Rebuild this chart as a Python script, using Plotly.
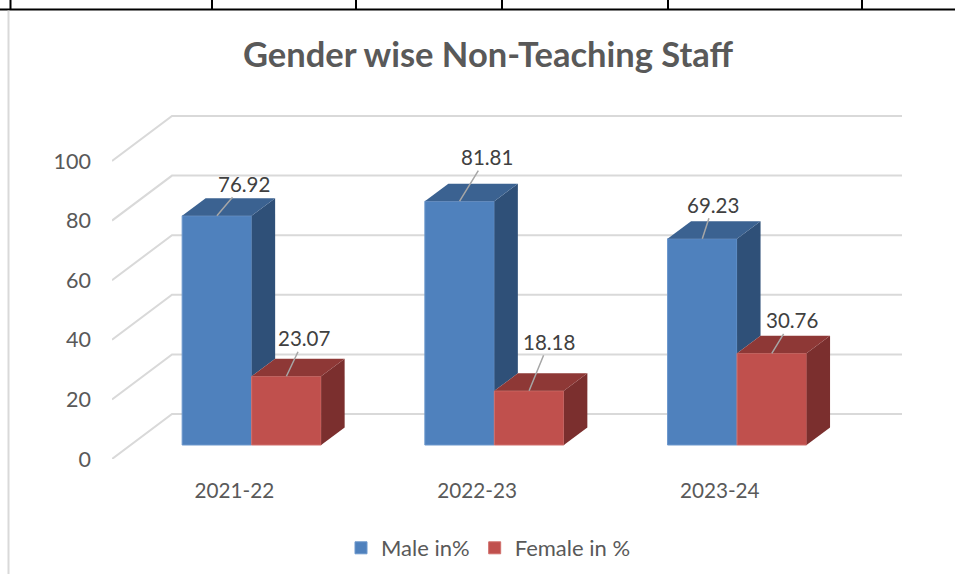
import plotly.graph_objects as go

categories = ["2021-22", "2022-23", "2023-24"]
male = [76.92, 81.81, 69.23]
female = [23.07, 18.18, 30.76]
y_ticks = [0, 20, 40, 60, 80, 100]

W, H = 955, 574
L, R, T, B = 112, 902, 105, 459
PX_X = 242.7    # pixels per category
PX_Y = 2.98     # pixels per percent
xr = [0, (R - L) / PX_X]
yr = [0, (B - T) / PX_Y]

# projection offsets, in axis units
WALL_DX, WALL_DY = 60 / PX_X, 45 / PX_Y
BAR_DX, BAR_DY = 23.5 / PX_X, 17.5 / PX_Y
SET_X, SET_Y = 18.3 / PX_X, 14 / PX_Y
BAR_W = 69.5 / PX_X

BLUE, BLUE_TOP, BLUE_SIDE = "#4F81BD", "#3B6291", "#2F5078"
RED, RED_TOP, RED_SIDE = "#C0504D", "#8E3836", "#7B2F2E"
TEXT, LABEL, GRID = "#595959", "#404040", "#D9D9D9"
FONT = "Lato"

centers = [i + 0.5 for i in range(len(categories))]
fig = go.Figure()

# front faces
split = [c + SET_X for c in centers]
fig.add_trace(go.Bar(x=split, y=male, base=SET_Y, width=BAR_W, offset=-BAR_W, name="Male in%",
                     marker=dict(color=BLUE, line=dict(color="#6C97CC", width=1))))
fig.add_trace(go.Bar(x=split, y=female, base=SET_Y, width=BAR_W, offset=0, name="Female in %",
                     marker=dict(color=RED, line=dict(color="#D06F6C", width=1))))


def face(xs, ys, color):
    fig.add_trace(go.Scatter(x=xs, y=ys, mode="lines", fill="toself", fillcolor=color,
                             line=dict(width=0, color=color), showlegend=False, hoverinfo="skip"))


for s, m, f in zip(split, male, female):
    mt, ft = SET_Y + m, SET_Y + f
    # male: side face visible above the female box, then top face
    face([s, s, s + BAR_DX, s + BAR_DX, s], [ft, mt, mt + BAR_DY, ft + BAR_DY, ft], BLUE_SIDE)
    face([s - BAR_W, s, s + BAR_DX, s - BAR_W + BAR_DX, s - BAR_W],
         [mt, mt, mt + BAR_DY, mt + BAR_DY, mt], BLUE_TOP)
    # female: side and top faces
    e = s + BAR_W
    face([e, e, e + BAR_DX, e + BAR_DX, e],
         [SET_Y, ft, ft + BAR_DY, SET_Y + BAR_DY, SET_Y], RED_SIDE)
    face([s, e, e + BAR_DX, s + BAR_DX, s], [ft, ft, ft + BAR_DY, ft + BAR_DY, ft], RED_TOP)

# wall gridlines behind the bars
shapes = []
for v in y_ticks:
    path = (f"M 0 {v} L {WALL_DX} {v + WALL_DY} L {xr[1]} {v + WALL_DY}")
    shapes.append(dict(type="path", path=path, xref="x", yref="y", layer="below",
                       line=dict(color=GRID, width=2)))


def px_x(p):
    return (p - L) / (R - L)


def px_y(p):
    return (B - p) / (B - T)


# surrounding table rules and the chart frame
shapes.append(dict(type="line", xref="paper", yref="paper", x0=px_x(0), x1=px_x(W),
                   y0=px_y(9.5), y1=px_y(9.5), line=dict(color="#000000", width=2)))
for p in [10.5, 212, 356, 502, 668, 862]:
    shapes.append(dict(type="line", xref="paper", yref="paper", x0=px_x(p), x1=px_x(p),
                       y0=px_y(0), y1=px_y(9.5), line=dict(color="#000000", width=2)))
shapes.append(dict(type="line", xref="paper", yref="paper", x0=px_x(8.5), x1=px_x(8.5),
                   y0=px_y(10.5), y1=px_y(H), line=dict(color=GRID, width=2)))

# data labels with leader lines
male_leader = [(27, -32), (27, -44), (11, -34)]
female_leader = [(18, -38), (20, -49), (20, -33)]
annotations = []
for s, vals, mid, leaders in [(split, male, -BAR_W / 2, male_leader),
                              (split, female, BAR_W / 2, female_leader)]:
    for c, v, (ax, ay) in zip(s, vals, leaders):
        annotations.append(dict(x=c + mid, y=SET_Y + v, xref="x", yref="y", text=f"{v:.2f}",
                                showarrow=True, arrowhead=0, arrowwidth=1.5, arrowcolor="#A6A6A6",
                                ax=ax, ay=ay, standoff=0,
                                font=dict(family=FONT, size=20.5, color=LABEL)))

fig.update_layout(
    width=W, height=H, autosize=False,
    margin=dict(l=L, r=W - R, t=T, b=H - B, pad=0),
    paper_bgcolor="#FFFFFF", plot_bgcolor="rgba(0,0,0,0)",
    title=dict(text="<b>Gender wise Non-Teaching Staff</b>", x=488 / W, xanchor="center",
               y=1 - 55 / H, yanchor="middle", xref="container", yref="container",
               font=dict(family=FONT, size=34.5, color=TEXT)),
    xaxis=dict(range=xr, tickmode="array", tickvals=[c + 1 / PX_X for c in centers],
               ticktext=categories,
               showgrid=False, zeroline=False, showline=False, ticks="", ticklabelstandoff=17,
               tickfont=dict(family=FONT, size=20.7, color=TEXT)),
    yaxis=dict(range=yr, tickmode="array", tickvals=y_ticks, showgrid=False, zeroline=False,
               showline=False, ticks="", ticklabelstandoff=20,
               tickfont=dict(family=FONT, size=21.5, color=TEXT)),
    barmode="overlay",
    legend=dict(orientation="h", x=341 / W, xanchor="left", y=1 - 548 / H, yanchor="middle",
                xref="container", yref="container", font=dict(family=FONT, size=22, color=TEXT),
                itemwidth=30, traceorder="normal"),
    shapes=shapes, annotations=annotations,
)
fig.write_html("out.html", post_script="document.body.style.margin='0';",
               config=dict(displayModeBar=False))
